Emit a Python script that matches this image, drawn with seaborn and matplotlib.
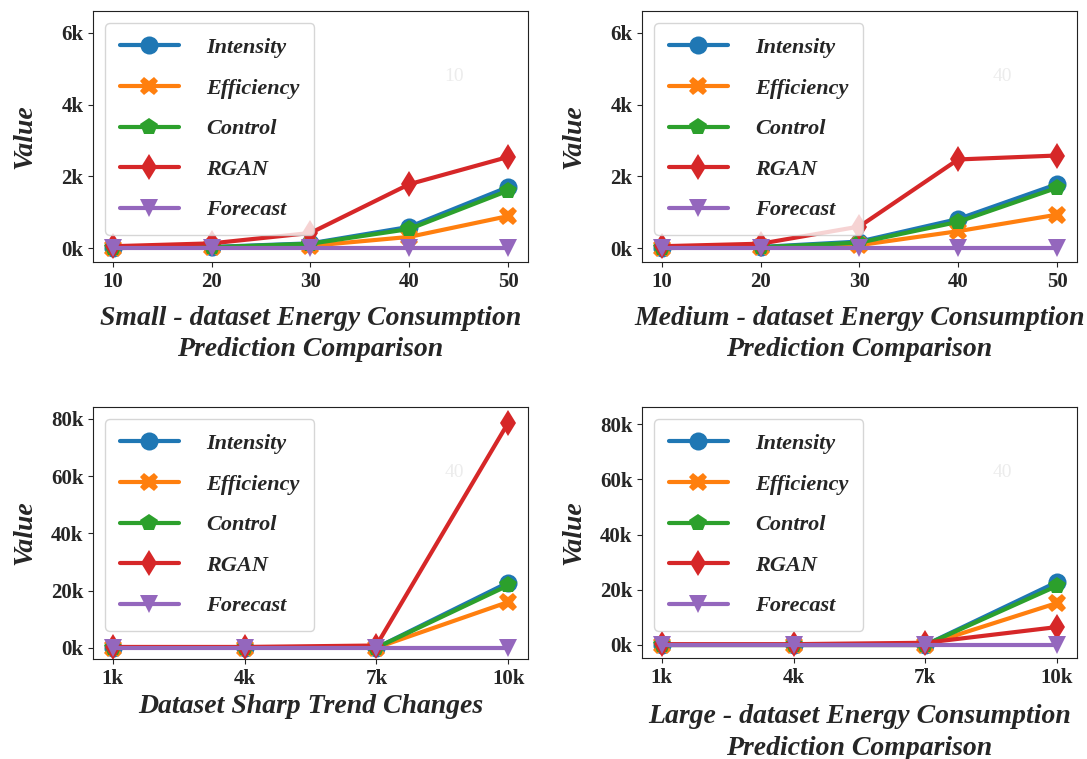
''' four panels comparing energy consumption prediction methods '''
import matplotlib
matplotlib.use("Agg")
import matplotlib.pyplot as plt
from matplotlib.ticker import FuncFormatter, MultipleLocator
import seaborn as sb

# ---- data ----
methods = ["Intensity", "Efficiency", "Control", "RGAN", "Forecast"]

steps_small = [10, 20, 30, 40, 50]
small_intensity = [10, 30, 130, 590, 1700]
small_efficiency = [0, 20, 60, 310, 890]
small_control = [0, 20, 120, 530, 1600]
small_rgan = [50, 130, 420, 1780, 2540]
small_forecast = [0, 0, 0, 0, 0]

steps_medium = [10, 20, 30, 40, 50]
medium_intensity = [10, 30, 180, 810, 1780]
medium_efficiency = [0, 20, 80, 470, 930]
medium_control = [0, 20, 150, 730, 1680]
medium_rgan = [50, 120, 600, 2470, 2580]
medium_forecast = [0, 0, 0, 0, 0]

steps_sharp = [1000, 4000, 7000, 10000]
sharp_intensity = [0, 0, 0, 22800]
sharp_efficiency = [0, 0, 0, 16000]
sharp_control = [0, 0, 0, 21800]
sharp_rgan = [300, 300, 800, 78600]
sharp_forecast = [0, 0, 0, 0]

steps_large = [1000, 4000, 7000, 10000]
large_intensity = [0, 0, 0, 22800]
large_efficiency = [0, 0, 0, 15200]
large_control = [0, 0, 0, 21400]
large_rgan = [300, 300, 800, 6500]
large_forecast = [0, 0, 0, 0]

colors = ["#1f77b4", "#ff7f0e", "#2ca02c", "#d62728", "#9467bd"]
markers = ["o", "X", "p", "d", "v"]

sb.set_style("ticks")
plt.rcParams["font.family"] = ["Liberation Serif", "DejaVu Serif"]
plt.rcParams["axes.edgecolor"] = "#222222"

BOLD_IT = dict(fontsize=20, fontweight="bold", fontstyle="italic")
kfmt = FuncFormatter(lambda v, pos: f"{v / 1000:.0f}k")


def draw_panel(ax, steps, series, xlabel, ylim, ystep, labelpad, watermark, ktick_x=False):
    ''' one panel with five method lines '''
    for name, vals, col, mk in zip(methods, series, colors, markers):
        sb.lineplot(x=steps, y=vals, ax=ax, color=col, marker=mk, markersize=13,
                    linewidth=3, markeredgewidth=0, label=name)
    ax.set_xticks(steps)
    if ktick_x:
        ax.xaxis.set_major_formatter(kfmt)
    ax.yaxis.set_major_locator(MultipleLocator(ystep))
    ax.yaxis.set_major_formatter(kfmt)
    ax.set_ylim(*ylim)
    for lab in ax.get_xticklabels() + ax.get_yticklabels():
        lab.set_fontsize(15)
        lab.set_fontweight("bold")
    ax.set_xlabel(xlabel, labelpad=labelpad, linespacing=1.35, **BOLD_IT)
    ax.set_ylabel("Value", **BOLD_IT)
    ax.yaxis.set_label_coords(-0.128, 0.5)
    ax.legend(loc="upper left", handlelength=2.65, handletextpad=1.25, labelspacing=0.9,
              borderpad=0.65, borderaxespad=0.55,
              prop=dict(family="Liberation Serif", size=16, weight="bold", style="italic"))
    ax.text(0.83, 0.74, watermark, transform=ax.transAxes, color="#ececec",
            fontsize=14, ha="center", va="center")


fig = plt.figure(figsize=(10.87, 7.59), dpi=100)
ax_tl = fig.add_axes([0.0856, 0.6548, 0.400, 0.3307])
ax_tr = fig.add_axes([0.5906, 0.6548, 0.400, 0.3307])
ax_bl = fig.add_axes([0.0856, 0.1318, 0.400, 0.3320])
ax_br = fig.add_axes([0.5906, 0.1331, 0.400, 0.3307])

draw_panel(ax_tl, steps_small,
           [small_intensity, small_efficiency, small_control, small_rgan, small_forecast],
           "Small - dataset Energy Consumption\nPrediction Comparison",
           (-390, 6610), 2000, 10, "10")
draw_panel(ax_tr, steps_medium,
           [medium_intensity, medium_efficiency, medium_control, medium_rgan, medium_forecast],
           "Medium - dataset Energy Consumption\nPrediction Comparison",
           (-390, 6610), 2000, 10, "40")
draw_panel(ax_bl, steps_sharp,
           [sharp_intensity, sharp_efficiency, sharp_control, sharp_rgan, sharp_forecast],
           "Dataset Sharp Trend Changes",
           (-3900, 84200), 20000, 4, "40", ktick_x=True)
draw_panel(ax_br, steps_large,
           [large_intensity, large_efficiency, large_control, large_rgan, large_forecast],
           "Large - dataset Energy Consumption\nPrediction Comparison",
           (-4700, 86200), 20000, 12, "40", ktick_x=True)

fig.savefig("out.png", dpi=100)
